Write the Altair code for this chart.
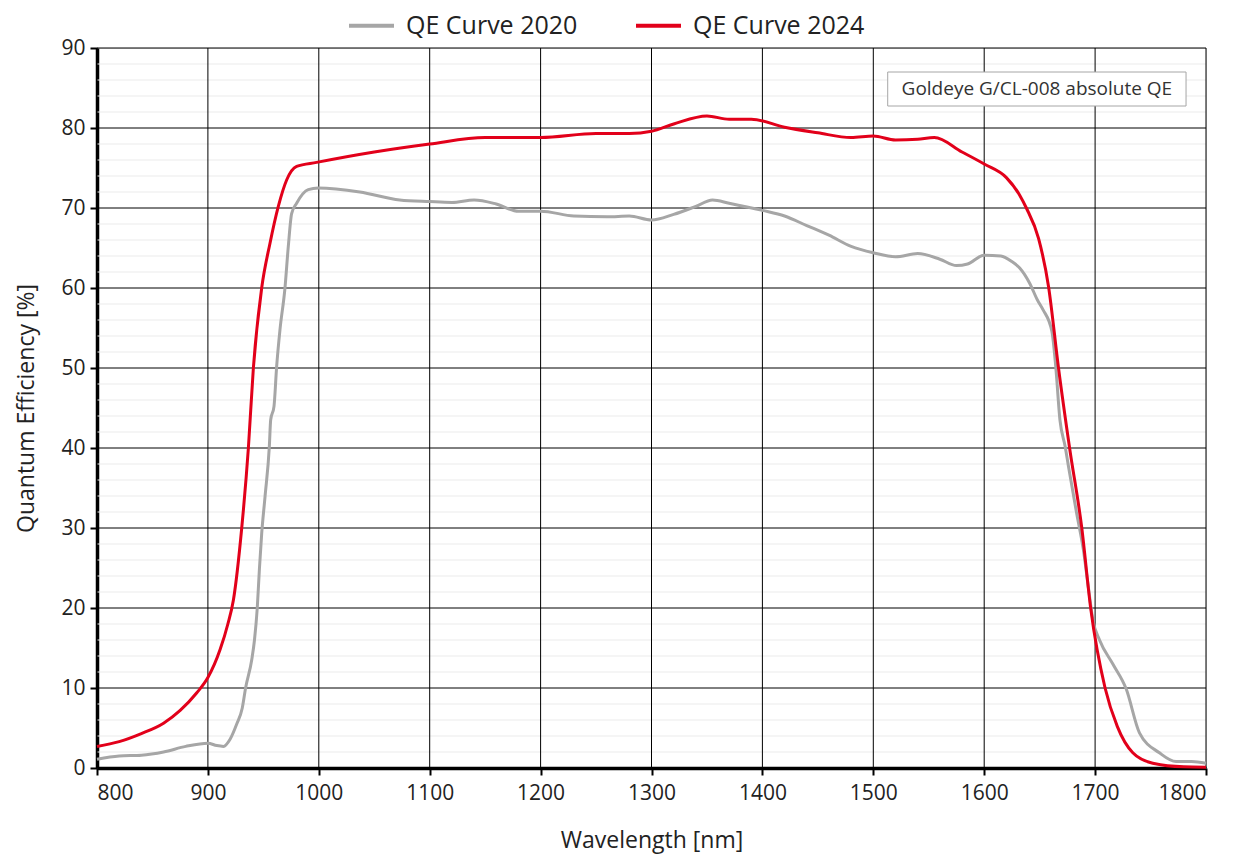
import altair as alt
import pandas as pd

# QE Curve 2020 (gray)
wl_2020 = [800, 820, 840, 860, 880, 900, 908, 914, 920, 926, 931, 934, 939.5, 942, 944.5, 946.5, 948.5, 951.5, 955.4, 956.6, 959.6, 962, 965, 969.5,
           972.5, 975.5, 980, 990.5, 999.5, 1037, 1073, 1100, 1120, 1140, 1160, 1180, 1200, 1230, 1260, 1280, 1300, 1320, 1340, 1355, 1370, 1400, 1420,
           1440, 1460, 1480, 1500, 1520, 1540, 1560, 1575, 1585, 1600, 1615, 1625, 1632, 1641, 1648, 1653, 1661, 1664.5, 1668.3, 1673, 1676, 1683.4,
           1689.4, 1694, 1698, 1704, 1716, 1728, 1740, 1758, 1773, 1787, 1800]
qe_2020 = [1.1, 1.5, 1.6, 2.0, 2.7, 3.1, 2.8, 2.7, 3.6, 5.5, 7.5, 10, 13.5, 16.0, 20.0, 25.0, 29.3, 33.9, 40.2, 43.5, 45.2, 50.2, 54.8, 60.0,
           65.2, 69.3, 70.6, 72.3, 72.5, 72.0, 71.0, 70.8, 70.7, 71.0, 70.5, 69.6, 69.6, 69.0, 68.9, 69.0, 68.5, 69.2, 70.2, 71.0, 70.6, 69.7, 69.0,
           67.8, 66.6, 65.2, 64.4, 63.9, 64.3, 63.6, 62.8, 63.0, 64.1, 64.0, 63.3, 62.5, 60.6, 58.5, 57.3, 54.6, 50.2, 43.5, 40.2, 37.7, 31.8,
           27.3, 22.5, 18.5, 16.0, 13.0, 9.9, 4.4, 1.9, 0.8, 0.8, 0.6]

# QE Curve 2024 (red)
wl_2024 = [800, 820, 840, 860, 875, 890, 900, 911, 918, 923, 930.5, 936.5, 941, 948.5, 956, 963.5, 971, 980, 998, 1050, 1100, 1150, 1200, 1250, 1280,
           1300, 1320, 1350, 1370, 1390, 1420, 1450, 1480, 1500, 1520, 1540, 1555, 1580, 1600, 1620, 1632, 1638, 1649, 1658, 1667, 1677, 1688, 1696,
           1709, 1720, 1734, 1752, 1780, 1800]
qe_2024 = [2.7, 3.3, 4.3, 5.6, 7.2, 9.4, 11.3, 14.8, 18.0, 21.0, 30.0, 40.0, 50.0, 60.0, 65.6, 70.2, 73.5, 75.2, 75.7, 77.0, 78.0, 78.8, 78.8, 79.3, 79.3,
           79.6, 80.5, 81.5, 81.1, 81.1, 80.1, 79.4, 78.8, 79.0, 78.5, 78.6, 78.8, 77.0, 75.5, 73.8, 71.6, 70.0, 66.2, 60.2, 50.0, 40.0, 30.0, 20.0,
           10.0, 5.2, 1.9, 0.6, 0.15, 0.1]

series_names = ["QE Curve 2020", "QE Curve 2024"]
series_colors = ["#A6A6A6", "#E2001A"]

x_ticks = list(range(800, 1801, 100))
y_ticks = list(range(0, 91, 10))
y_minor = [v for v in range(0, 91, 2) if v % 10 != 0]

annotation = "Goldeye G/CL-008 absolute QE"
ann_x, ann_x1, ann_x2 = 1647.5, 1513, 1782
ann_y, ann_y1, ann_y2 = 84.9, 82.75, 87.0

FONT = "Open Sans"
TXT = "#222222"

df = pd.concat([
    pd.DataFrame({"wl": wl_2020, "qe": qe_2020, "series": series_names[0], "order": range(len(wl_2020))}),
    pd.DataFrame({"wl": wl_2024, "qe": qe_2024, "series": series_names[1], "order": range(len(wl_2024))}),
])

xscale = alt.Scale(domain=[800, 1800], nice=False, zero=False)
yscale = alt.Scale(domain=[0, 90], nice=False)

minor = alt.Chart(pd.DataFrame({"y": y_minor})).mark_rule(color="#EBEBEB", strokeWidth=1).encode(
    y=alt.Y("y:Q", scale=yscale)
)
hgrid = alt.Chart(pd.DataFrame({"y": y_ticks})).mark_rule(color="#000000", strokeWidth=1).encode(
    y=alt.Y("y:Q", scale=yscale)
)
vgrid = alt.Chart(pd.DataFrame({"x": x_ticks})).mark_rule(color="#000000", strokeWidth=1).encode(
    x=alt.X("x:Q", scale=xscale)
)

lines = alt.Chart(df).mark_line(strokeWidth=3, interpolate="monotone").encode(
    x=alt.X("wl:Q", scale=xscale,
            axis=alt.Axis(values=x_ticks, title="Wavelength [nm]", format="d", grid=False,
                          domainColor="#000000", domainWidth=3.5, tickColor="#000000", tickWidth=2,
                          tickSize=7, labelFontSize=21, labelColor=TXT, labelPadding=7, labelFont=FONT,
                          titleFont=FONT, titleFontSize=23, titleFontWeight="normal", titleColor=TXT,
                          titlePadding=26)),
    y=alt.Y("qe:Q", scale=yscale,
            axis=alt.Axis(values=y_ticks, title="Quantum Efficiency [%]", grid=False,
                          domainColor="#000000", domainWidth=3.5, tickColor="#000000", tickWidth=2,
                          tickSize=7, labelFontSize=21, labelColor=TXT, labelPadding=5, labelFont=FONT,
                          titleFont=FONT, titleFontSize=23, titleFontWeight="normal", titleColor=TXT,
                          titlePadding=22)),
    color=alt.Color("series:N", scale=alt.Scale(domain=series_names, range=series_colors),
                    legend=alt.Legend(title=None, orient="none", legendX=250, legendY=-47, direction="horizontal",
                                      symbolType="stroke", symbolStrokeWidth=4, symbolSize=2025,
                                      labelFontSize=25, labelFont=FONT, labelColor=TXT, columnPadding=50,
                                      labelOffset=10, labelLimit=400)),
    order="order:O",
)

box = alt.Chart(pd.DataFrame({"x1": [ann_x1], "x2": [ann_x2], "y1": [ann_y1], "y2": [ann_y2]})).mark_rect(
    fill="white", stroke="#A6A6A6", strokeWidth=1
).encode(x=alt.X("x1:Q", scale=xscale), x2="x2:Q", y=alt.Y("y1:Q", scale=yscale), y2="y2:Q")

txt = alt.Chart(pd.DataFrame({"x": [ann_x], "y": [ann_y], "t": [annotation]})).mark_text(
    font=FONT, fontSize=19, color="#333333", align="center", baseline="middle"
).encode(x=alt.X("x:Q", scale=xscale), y=alt.Y("y:Q", scale=yscale), text="t:N")

chart = alt.layer(minor, hgrid, vgrid, lines, box, txt).properties(
    width=1109, height=720,
    autosize=alt.AutoSizeParams(type="none"),
    padding={"left": 89, "top": 40, "right": 5, "bottom": 90},
).configure_view(stroke=None).configure(background="white")

chart.save("out.html", embed_options={"renderer": "svg", "actions": False})
